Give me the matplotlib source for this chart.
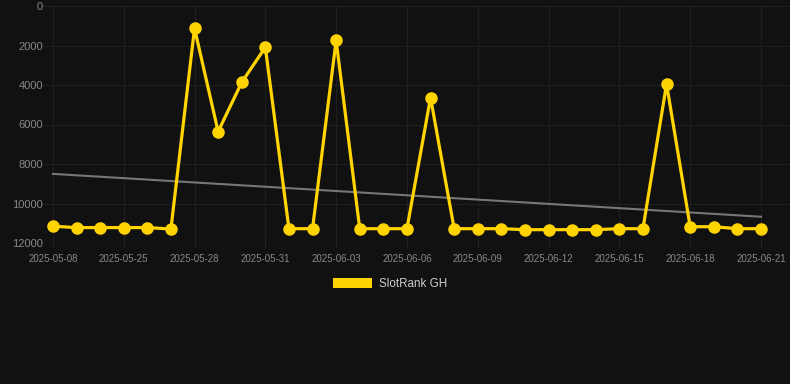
import numpy as np
import matplotlib
matplotlib.use('Agg')
import matplotlib.pyplot as plt
from matplotlib.patches import Patch

plt.rcParams['font.family'] = ['Liberation Sans', 'DejaVu Sans']

# dados
dates = ['2025-05-08', '2025-05-09', '2025-05-24', '2025-05-25', '2025-05-26', '2025-05-27',
         '2025-05-28', '2025-05-29', '2025-05-30', '2025-05-31', '2025-06-01', '2025-06-02',
         '2025-06-03', '2025-06-04', '2025-06-05', '2025-06-06', '2025-06-07', '2025-06-08',
         '2025-06-09', '2025-06-10', '2025-06-11', '2025-06-12', '2025-06-13', '2025-06-14',
         '2025-06-15', '2025-06-16', '2025-06-17', '2025-06-18', '2025-06-19', '2025-06-20',
         '2025-06-21']
rank = [11150, 11220, 11220, 11220, 11220, 11290, 1130, 6360, 3865, 2090, 11275, 11275,
        1740, 11275, 11275, 11275, 4640, 11275, 11275, 11275, 11325, 11325, 11325, 11325,
        11275, 11275, 3950, 11175, 11175, 11275, 11275]
# linha de tendência (início e fim)
trend = [8500, 10670]

tick_labels = dates[::3]

bg = '#111111'
gold = '#FFD400'

fig = plt.figure(figsize=(7.9, 3.84), dpi=100, facecolor=bg)
ax = fig.add_axes([43 / 790, 1 - 243 / 384, (790 - 43) / 790, (243 - 6) / 384], facecolor=bg)

x = np.arange(len(rank))
ax.plot([x[0], x[-1]], trend, color='#777777', lw=1.5, zorder=2)
ax.plot(x, rank, color=gold, lw=2.3, marker='o', markersize=8,
        solid_joinstyle='miter', zorder=3)

ax.set_xlim(-0.42, 31.23)
ax.set_ylim(12000, 0)
ax.set_yticks(np.arange(0, 12001, 2000))
ax.set_xticks(x[::3])
ax.set_xticklabels(tick_labels)

ax.grid(True, color='#1f1f1f', lw=0.8)
for s in ax.spines.values():
    s.set_visible(False)
ax.tick_params(axis='y', length=0, colors='#888888', labelsize=8, pad=0)
ax.tick_params(axis='x', length=3, color='#2a2a2a', colors='#888888', labelsize=7, pad=5)

fig.legend(handles=[Patch(facecolor=gold, label='SlotRank GH')], loc='center',
           bbox_to_anchor=(390 / 790, 1 - 284 / 384), frameon=False,
           handlelength=3.4, handleheight=1.0, handletextpad=0.6,
           labelcolor='#cccccc', fontsize=8.4)

fig.savefig('out.png', dpi=100, facecolor=bg)
